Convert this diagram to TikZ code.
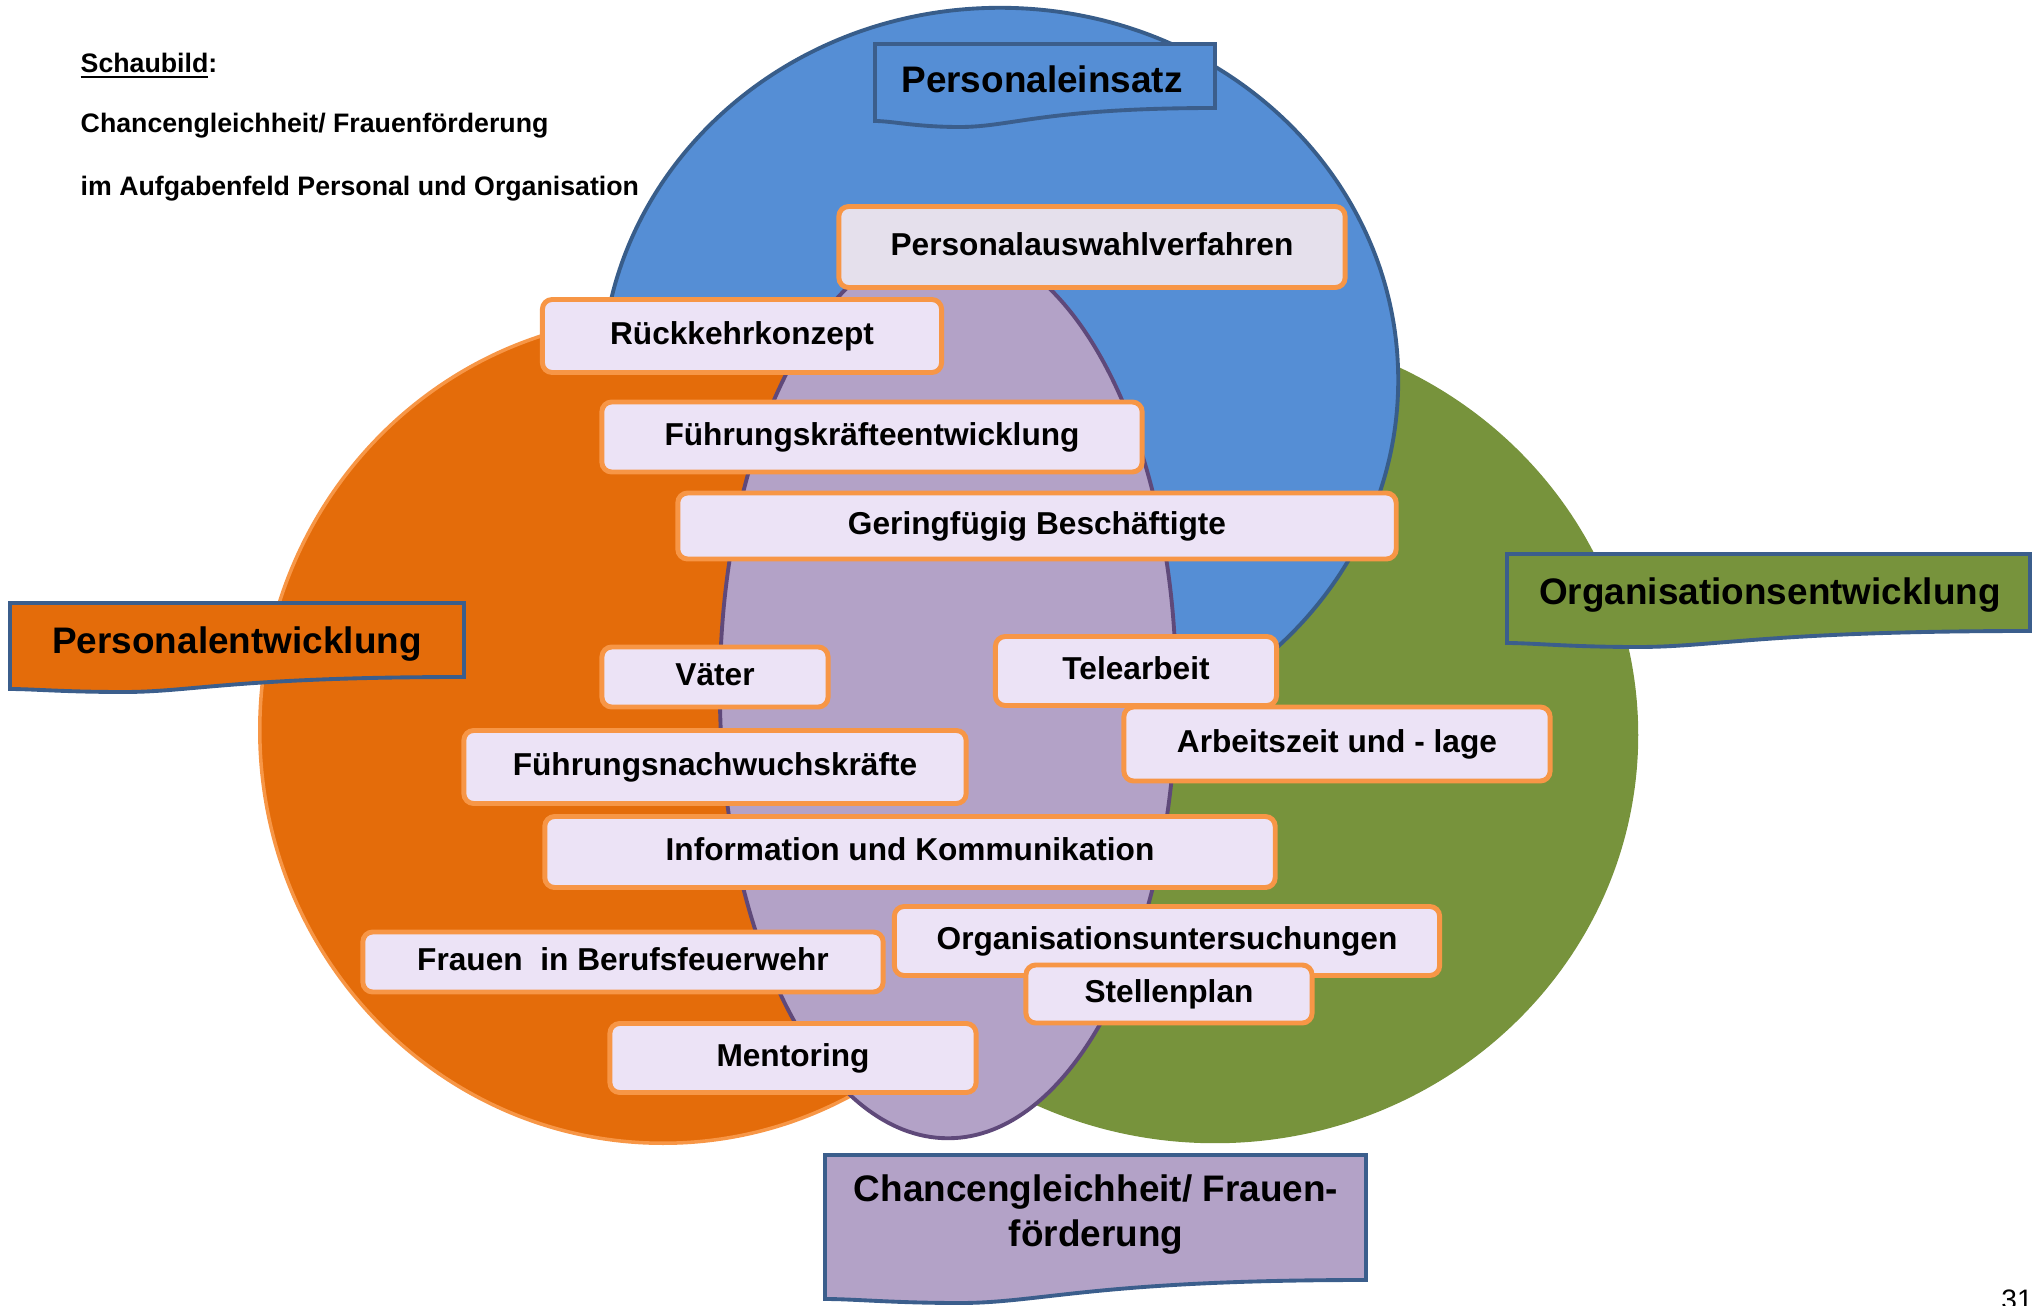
\documentclass[tikz,border=0pt]{standalone}
\usepackage{fontspec}
\setmainfont{Liberation Sans}
\definecolor{orangefill}{HTML}{E46C0A}
\definecolor{orangeline}{HTML}{F79646}
\definecolor{bluefill}{HTML}{558ED5}
\definecolor{blueline}{HTML}{385D8A}
\definecolor{greenfill}{HTML}{77933C}
\definecolor{purplefill}{HTML}{B3A2C7}
\definecolor{purpleline}{HTML}{5F497A}
\definecolor{framecol}{HTML}{3B5E8C}
\definecolor{itemfill}{HTML}{ECE3F6}
\definecolor{itemfilltop}{HTML}{E5E0EC}
\tikzset{
  item/.style={draw=orangeline,fill=itemfill,line width=1.4pt,rounded corners=2.8pt,inner sep=0pt,
    font=\bfseries\fontsize{9}{10}\selectfont,text height=6.5pt,text depth=1.4pt},
  frame/.style={draw=framecol,line width=1.1pt},
  framelabel/.style={font=\bfseries\fontsize{10.5}{12.8}\selectfont,text height=7.6pt,text depth=0pt},
  titleline/.style={anchor=base west,inner sep=0pt,font=\bfseries\fontsize{7.6}{9}\selectfont}
}
\begin{document}
\begin{tikzpicture}[x=0.01cm,y=-0.01cm]
\useasboundingbox (0,0) rectangle (2038,1306);
\fill[greenfill] (1215,735) ellipse [x radius=4.23cm,y radius=4.08cm];
\filldraw[fill=bluefill,draw=blueline,line width=1.1pt] (1000,380) ellipse [x radius=3.98cm,y radius=3.72cm];
\filldraw[fill=orangefill,draw=orangeline,line width=1pt] (663,730) ellipse [x radius=4.03cm,y radius=4.13cm];
\filldraw[fill=purplefill,draw=purpleline,line width=1.1pt] (948,690) ellipse [x radius=2.28cm,y radius=4.48cm];

\node[titleline] (t1) at (80,72) {\underline{Schaubild}:};
\node[titleline] (t2) at (80,133) {Chancengleichheit/ Frauenförderung};
\node[titleline] (t3) at (80,195) {im Aufgabenfeld Personal und Organisation};

\node[item,fill=itemfilltop,minimum width=5.06cm,minimum height=0.81cm] (pav) at (1092,247) {Personalauswahlverfahren};
\node[item,minimum width=3.99cm,minimum height=0.73cm] (rk) at (742,336) {Rückkehrkonzept};
\node[item,minimum width=5.40cm,minimum height=0.70cm] (fke) at (872,437) {Führungskräfteentwicklung};
\node[item,minimum width=7.18cm,minimum height=0.66cm] (gb) at (1037,526) {Geringfügig Beschäftigte};
\node[item,minimum width=2.26cm,minimum height=0.60cm] (vat) at (715,677) {Väter};
\node[item,minimum width=2.81cm,minimum height=0.69cm] (tel) at (1136,671) {Telearbeit};
\node[item,minimum width=4.26cm,minimum height=0.74cm] (az) at (1337,744) {Arbeitszeit und - lage};
\node[item,minimum width=5.02cm,minimum height=0.73cm] (fnk) at (715,767) {Führungsnachwuchskräfte};
\node[item,minimum width=7.30cm,minimum height=0.71cm] (iuk) at (910,852) {Information und Kommunikation};
\node[item,minimum width=5.45cm,minimum height=0.69cm] (ou) at (1167,941) {Organisationsuntersuchungen};
\node[item,minimum width=5.20cm,minimum height=0.60cm] (fib) at (623,962) {Frauen\ \ in Berufsfeuerwehr};
\node[item,minimum width=2.86cm,minimum height=0.58cm] (sp) at (1169,994) {Stellenplan};
\node[item,minimum width=3.66cm,minimum height=0.69cm] (men) at (793,1058) {Mentoring};

\filldraw[frame,fill=bluefill] (875,44) -- (1215,44) -- (1215,108) .. controls (1045,108) and (1011,127) .. (960,127) .. controls (916,127) and (892,121) .. (875,121) -- cycle;
\node[framelabel] (pein) at (1042,79) {Personaleinsatz};
\filldraw[frame,fill=orangefill] (10,603) -- (464,603) -- (464,677) .. controls (237,677) and (192,692) .. (124,692) .. controls (64,692) and (33,689) .. (10,689) -- cycle;
\node[framelabel] (pent) at (237,640) {Personalentwicklung};
\filldraw[frame,fill=greenfill] (1507,554) -- (2030,554) -- (2030,631) .. controls (1769,631) and (1716,647) .. (1638,647) .. controls (1570,647) and (1533,643) .. (1507,643) -- cycle;
\node[framelabel] (orgent) at (1770,591) {Organisationsentwicklung};
\filldraw[frame,fill=purplefill] (825,1155) -- (1366,1155) -- (1366,1280) .. controls (1095,1280) and (1041,1303) .. (960,1303) .. controls (893,1303) and (855,1299) .. (825,1299) -- cycle;
\node[framelabel,text height=,text depth=,align=center] (chance) at (1096,1215) {Chancengleichheit/ Frauen-\\förderung};

\node[anchor=base west,font=\fontsize{8}{9}\selectfont] (page) at (1989,1309) {31};
\end{tikzpicture}
\end{document}
